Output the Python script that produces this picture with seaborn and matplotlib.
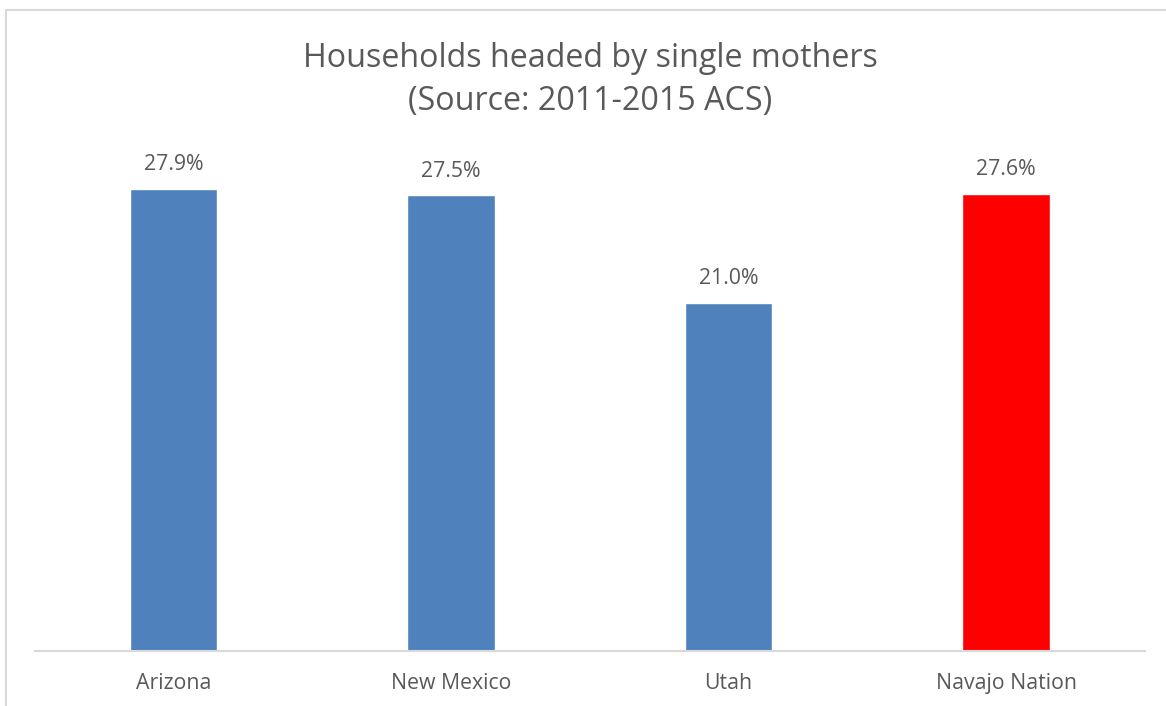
import matplotlib
matplotlib.use("Agg")
import matplotlib.pyplot as plt
import seaborn as sns
from matplotlib.lines import Line2D

# data
regions = ["Arizona", "New Mexico", "Utah", "Navajo Nation"]
pct_single_mothers = [27.9, 27.5, 21.0, 27.6]
bar_colors = ["#4F81BD", "#4F81BD", "#4F81BD", "#FF0000"]

sns.set_theme(style="white")
plt.rcParams['font.family'] = ['Open Sans', 'DejaVu Sans']
text_color = "#595959"

fig = plt.figure(figsize=(11.66, 7.06), dpi=100)
ax = fig.add_axes([0.0298, 0.0779, 0.952, 0.7040])

sns.barplot(x=regions, y=pct_single_mothers, hue=regions, palette=bar_colors,
            legend=False, width=0.315, ax=ax, saturation=1)

ax.set_ylim(0, 30)
ax.set_xlim(-0.5, 3.5)
ax.set_yticks([])
ax.set_xlabel("")
ax.set_ylabel("")
for side in ["top", "right", "left"]:
    ax.spines[side].set_visible(False)
ax.spines["bottom"].set_color("#D9D9D9")
ax.spines["bottom"].set_linewidth(1.5)
ax.tick_params(axis="x", length=0, pad=16, labelsize=15.3, labelcolor=text_color)

for i, v in enumerate(pct_single_mothers):
    ax.annotate(f"{v:.1f}%", (i, v), xytext=(0, 10), textcoords="offset points",
                ha="center", va="bottom", fontsize=15.3, color=text_color)

fig.text(0.506, 0.887, "Households headed by single mothers\n(Source: 2011-2015 ACS)",
         ha="center", va="center", fontsize=23.2, color=text_color, linespacing=1.42)

# chart border (left and top edges visible in the crop)
fig.add_artist(Line2D([6 / 1166, 6 / 1166], [0, 1 - 10 / 706], transform=fig.transFigure,
                      color="#D9D9D9", lw=1.5))
fig.add_artist(Line2D([6 / 1166, 1], [1 - 10 / 706, 1 - 10 / 706], transform=fig.transFigure,
                      color="#D9D9D9", lw=1.5))

fig.savefig("out.png", dpi=100, facecolor="white")
plt.close(fig)
